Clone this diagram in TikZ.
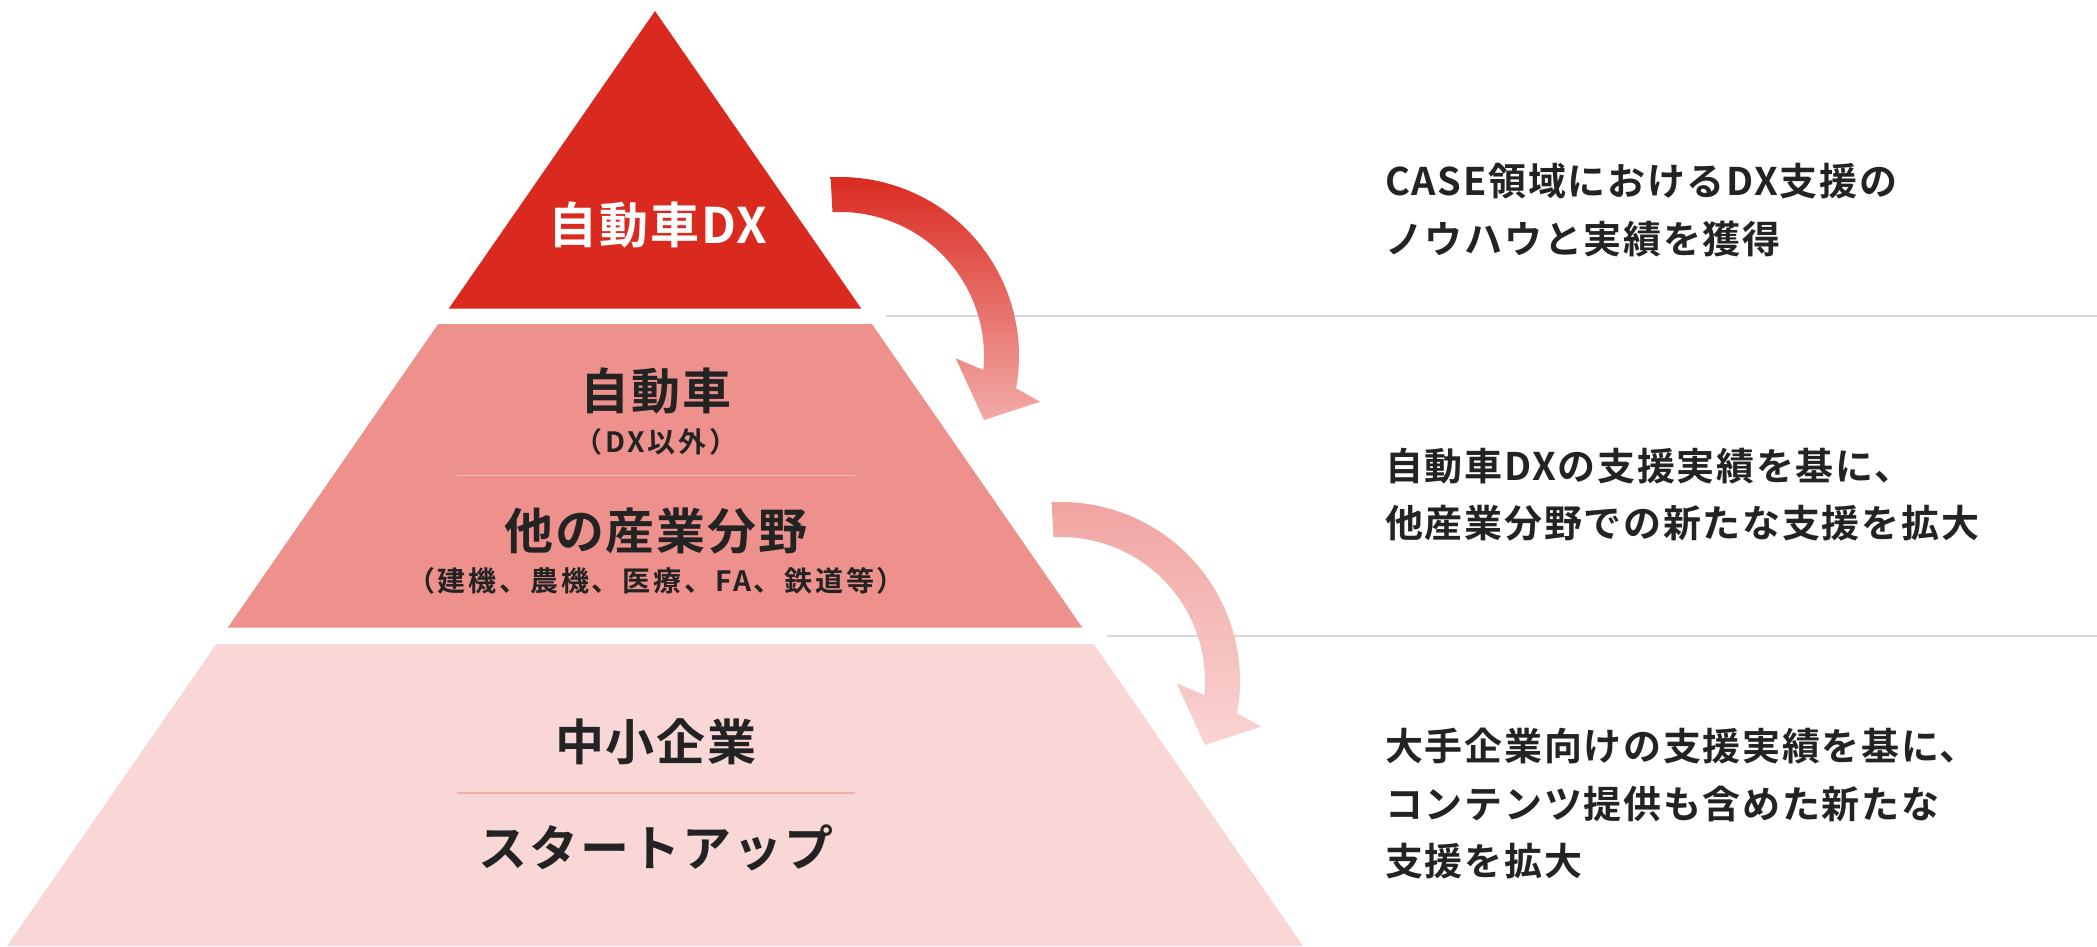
\documentclass[tikz,border=0pt]{standalone}
\usepackage{fontspec}
\newfontfamily\jpb{Noto Sans CJK JP}[UprightFont=* Bold, LetterSpace=4]
\newfontfamily\jpside{Noto Sans CJK JP}[UprightFont=* Bold, LetterSpace=4.5]
\newfontfamily\jpsub{Noto Sans CJK JP}[UprightFont=* Bold, LetterSpace=10]
\definecolor{topred}{RGB}{218,41,31}
\definecolor{midpink}{RGB}{238,145,140}
\definecolor{lowpink}{RGB}{249,215,214}
\definecolor{divmid}{RGB}{246,190,187}
\definecolor{divlow}{RGB}{240,174,172}
\definecolor{rulegray}{RGB}{216,216,216}
\definecolor{ink}{RGB}{35,35,35}
\definecolor{aoneTop}{RGB}{218,41,31}
\definecolor{aoneMid}{RGB}{229,102,96}
\definecolor{aoneBot}{RGB}{242,171,168}
\definecolor{atwoTop}{RGB}{240,164,161}
\definecolor{atwoMid}{RGB}{244,187,185}
\definecolor{atwoBot}{RGB}{249,212,211}
\tikzset{
  lbl/.style={font=\jpb\fontsize{49}{49}\selectfont, text=ink, inner sep=0pt, anchor=base},
  sublbl/.style={font=\jpsub\fontsize{28}{28}\selectfont, text=ink, inner sep=0pt, anchor=base},
  side/.style={font=\jpside\fontsize{38}{38}\selectfont, text=ink, inner sep=0pt, anchor=base west},
  rule/.style={draw=rulegray, line width=2pt},
  divider/.style={line width=1.8pt},
  bendarrow/.pic={
    \shade[top color=#1Top, middle color=#1Mid, bottom color=#1Bot]
      ([shift={(840,356)}]-93:179) arc[start angle=-93, end angle=10.4, radius=179]
      -- (1040,401.7) -- (984,420) -- (955.7,358.3)
      -- ([shift={(840,356)}]5.6:144) arc[start angle=5.6, end angle=-93, radius=144]
      -- cycle;
  }
}
\begin{document}
\begin{tikzpicture}[x=1pt,y=-1pt]
\useasboundingbox (0,0) rectangle (2097,946);
\fill[white] (0,0) rectangle (2097,946);
% gray rules
\draw[rule] (886,316) -- (2097,316);
\draw[rule] (1107,635.5) -- (2097,635.5);
% pyramid
\fill[topred] (655,11) -- (861.2,308.5) -- (448.8,308.5) -- cycle;
\fill[midpink] (438.1,324) -- (871.9,324) -- (1082.2,627.5) -- (227.8,627.5) -- cycle;
\fill[lowpink] (216.3,644) -- (1093.7,644) -- (1303,946) -- (7,946) -- cycle;
\draw[divider, draw=divmid] (457,475.5) -- (855,475.5);
\draw[divider, draw=divlow] (457,793) -- (855,793);
% arrows
\pic {bendarrow=aone};
\pic[shift={(221,325)}] {bendarrow=atwo};
% pyramid labels
\node[lbl, text=white] (t1) at (658,243) {自動車DX};
\node[lbl] (m1) at (656,409.5) {自動車};
\node[sublbl] (m1s) at (656,452) {（DX以外）};
\node[lbl] (m2) at (656,549) {他の産業分野};
\node[sublbl] (m2s) at (656,591) {（建機、農機、医療、FA、鉄道等）};
\node[lbl] (b1) at (656,760) {中小企業};
\node[lbl] (b2) at (656,866) {スタートアップ};
% side texts
\node[side] (r1a) at (1385,195.5) {CASE領域におけるDX支援の};
\node[side] (r1b) at (1385,253) {ノウハウと実績を獲得};
\node[side] (r2a) at (1385,480) {自動車DXの支援実績を基に、};
\node[side] (r2b) at (1385,537.5) {他産業分野での新たな支援を拡大};
\node[side] (r3a) at (1385,760.5) {大手企業向けの支援実績を基に、};
\node[side] (r3b) at (1385,818) {コンテンツ提供も含めた新たな};
\node[side] (r3c) at (1385,875.5) {支援を拡大};
\end{tikzpicture}
\end{document}
